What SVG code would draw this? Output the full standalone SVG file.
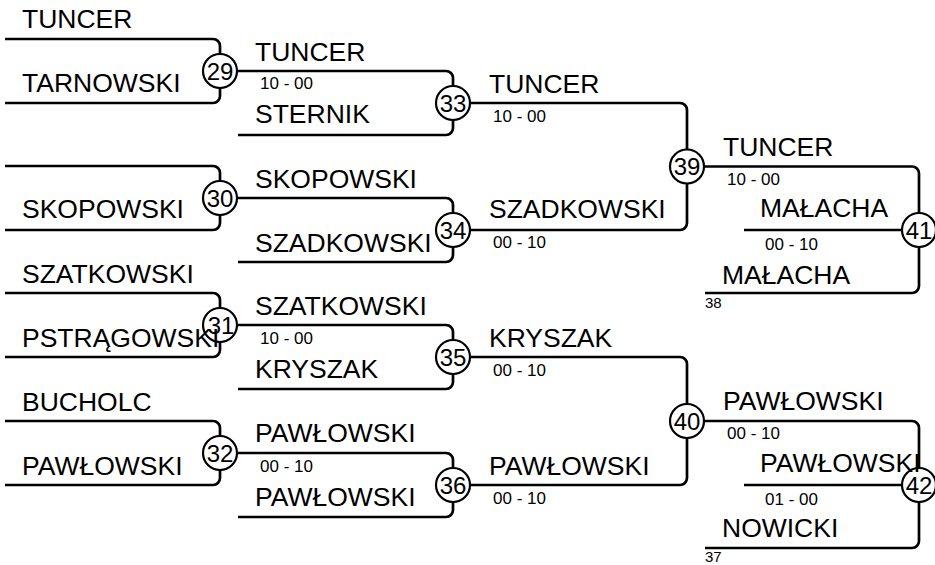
<svg xmlns="http://www.w3.org/2000/svg" width="935" height="565" viewBox="0 0 935 565">
<style>
.c{fill:none;stroke:#000;stroke-width:2.7}
.n{fill:#fff;stroke:#000;stroke-width:2.2}
.num{font-family:"Liberation Sans",Arial,sans-serif;font-size:24px;text-anchor:middle;fill:#000}
.nm{font-family:"Liberation Sans",Arial,sans-serif;font-size:26.5px;fill:#000}
.sc{font-family:"Liberation Sans",Arial,sans-serif;font-size:17px;fill:#000}
.sm{font-family:"Liberation Sans",Arial,sans-serif;font-size:15px;fill:#000}
</style>
<rect width="935" height="565" fill="#fff"/>
<g id="connectors" class="c">
<path d="M5 39H213A7 7 0 0 1 220 46V54"/>
<path d="M5 103H213A7 7 0 0 0 220 96V88"/>
<path d="M237 71H446A7 7 0 0 1 453 78V86"/>
<path d="M238 135H446A7 7 0 0 0 453 128V120"/>
<path d="M470 103H680A7 7 0 0 1 687 110V149.5"/>
<path d="M5 166H213A7 7 0 0 1 220 173V181"/>
<path d="M5 230H213A7 7 0 0 0 220 223V215"/>
<path d="M237 198H446A7 7 0 0 1 453 205V213"/>
<path d="M238 262H446A7 7 0 0 0 453 255V247"/>
<path d="M470 230H680A7 7 0 0 0 687 223V183.5"/>
<path d="M704 166.5H912A7 7 0 0 1 919 173.5V213"/>
<path d="M744 230H902"/>
<path d="M705 293H912A7 7 0 0 0 919 286V247"/>
<path d="M5 293H213A7 7 0 0 1 220 300V308"/>
<path d="M5 357H213A7 7 0 0 0 220 350V342"/>
<path d="M237 325H446A7 7 0 0 1 453 332V340"/>
<path d="M238 389H446A7 7 0 0 0 453 382V374"/>
<path d="M470 357H680A7 7 0 0 1 687 364V404"/>
<path d="M5 421H213A7 7 0 0 1 220 428V436"/>
<path d="M5 485H213A7 7 0 0 0 220 478V470"/>
<path d="M237 453H446A7 7 0 0 1 453 460V468"/>
<path d="M238 517H446A7 7 0 0 0 453 510V502"/>
<path d="M470 485H680A7 7 0 0 0 687 478V438"/>
<path d="M704 421H912A7 7 0 0 1 919 428V468"/>
<path d="M744 485H902"/>
<path d="M705 548H912A7 7 0 0 0 919 541V502"/>
</g>
<g id="m29"><circle class="n" cx="220" cy="71" r="17"/><text class="num" x="220" y="79.5">29</text></g>
<g id="m30"><circle class="n" cx="220" cy="198" r="17"/><text class="num" x="220" y="206.5">30</text></g>
<g id="m31"><circle class="n" cx="220" cy="325" r="17"/><text class="num" x="221" y="333.5">31</text></g>
<g id="m32"><circle class="n" cx="220" cy="453" r="17"/><text class="num" x="220" y="461.5">32</text></g>
<g id="m33"><circle class="n" cx="453" cy="103" r="17"/><text class="num" x="453" y="111.5">33</text></g>
<g id="m34"><circle class="n" cx="453" cy="230" r="17"/><text class="num" x="453" y="238.5">34</text></g>
<g id="m35"><circle class="n" cx="453" cy="357" r="17"/><text class="num" x="453" y="365.5">35</text></g>
<g id="m36"><circle class="n" cx="453" cy="485" r="17"/><text class="num" x="453" y="493.5">36</text></g>
<g id="m39"><circle class="n" cx="687" cy="166.5" r="17"/><text class="num" x="687" y="175">39</text></g>
<g id="m40"><circle class="n" cx="687" cy="421" r="17"/><text class="num" x="687" y="429.5">40</text></g>
<g id="m41"><circle class="n" cx="919" cy="230" r="17"/><text class="num" x="919" y="238.5">41</text></g>
<g id="m42"><circle class="n" cx="919" cy="485" r="17"/><text class="num" x="919" y="493.5">42</text></g>
<g id="labels">
<text class="nm" x="22" y="28">TUNCER</text>
<text class="nm" x="22" y="92">TARNOWSKI</text>
<text class="nm" x="22" y="218">SKOPOWSKI</text>
<text class="nm" x="22" y="283">SZATKOWSKI</text>
<text class="nm" x="22" y="347">PSTRĄGOWSKI</text>
<text class="nm" x="22" y="411">BUCHOLC</text>
<text class="nm" x="22" y="475">PAWŁOWSKI</text>
<text class="nm" x="255" y="61">TUNCER</text>
<text class="sc" x="260" y="89">10 - 00</text>
<text class="nm" x="255" y="123">STERNIK</text>
<text class="nm" x="255" y="188">SKOPOWSKI</text>
<text class="nm" x="255" y="252">SZADKOWSKI</text>
<text class="nm" x="255" y="315">SZATKOWSKI</text>
<text class="sc" x="260" y="344">10 - 00</text>
<text class="nm" x="255" y="378">KRYSZAK</text>
<text class="nm" x="255" y="442">PAWŁOWSKI</text>
<text class="sc" x="260" y="472">00 - 10</text>
<text class="nm" x="255" y="506">PAWŁOWSKI</text>
<text class="nm" x="489" y="93">TUNCER</text>
<text class="sc" x="493" y="122">10 - 00</text>
<text class="nm" x="489" y="218">SZADKOWSKI</text>
<text class="sc" x="493" y="248">00 - 10</text>
<text class="nm" x="489" y="347">KRYSZAK</text>
<text class="sc" x="493" y="376">00 - 10</text>
<text class="nm" x="489" y="475">PAWŁOWSKI</text>
<text class="sc" x="493" y="504">00 - 10</text>
<text class="nm" x="723" y="156">TUNCER</text>
<text class="sc" x="727" y="185">10 - 00</text>
<text class="nm" x="760" y="217">MAŁACHA</text>
<text class="sc" x="765" y="250">00 - 10</text>
<text class="nm" x="722" y="284">MAŁACHA</text>
<text class="sm" x="705" y="308">38</text>
<text class="nm" x="723" y="410">PAWŁOWSKI</text>
<text class="sc" x="727" y="439">00 - 10</text>
<text class="nm" x="760" y="472">PAWŁOWSKI</text>
<text class="sc" x="765" y="505">01 - 00</text>
<text class="nm" x="722" y="537">NOWICKI</text>
<text class="sm" x="705" y="562">37</text>
</g>
</svg>
